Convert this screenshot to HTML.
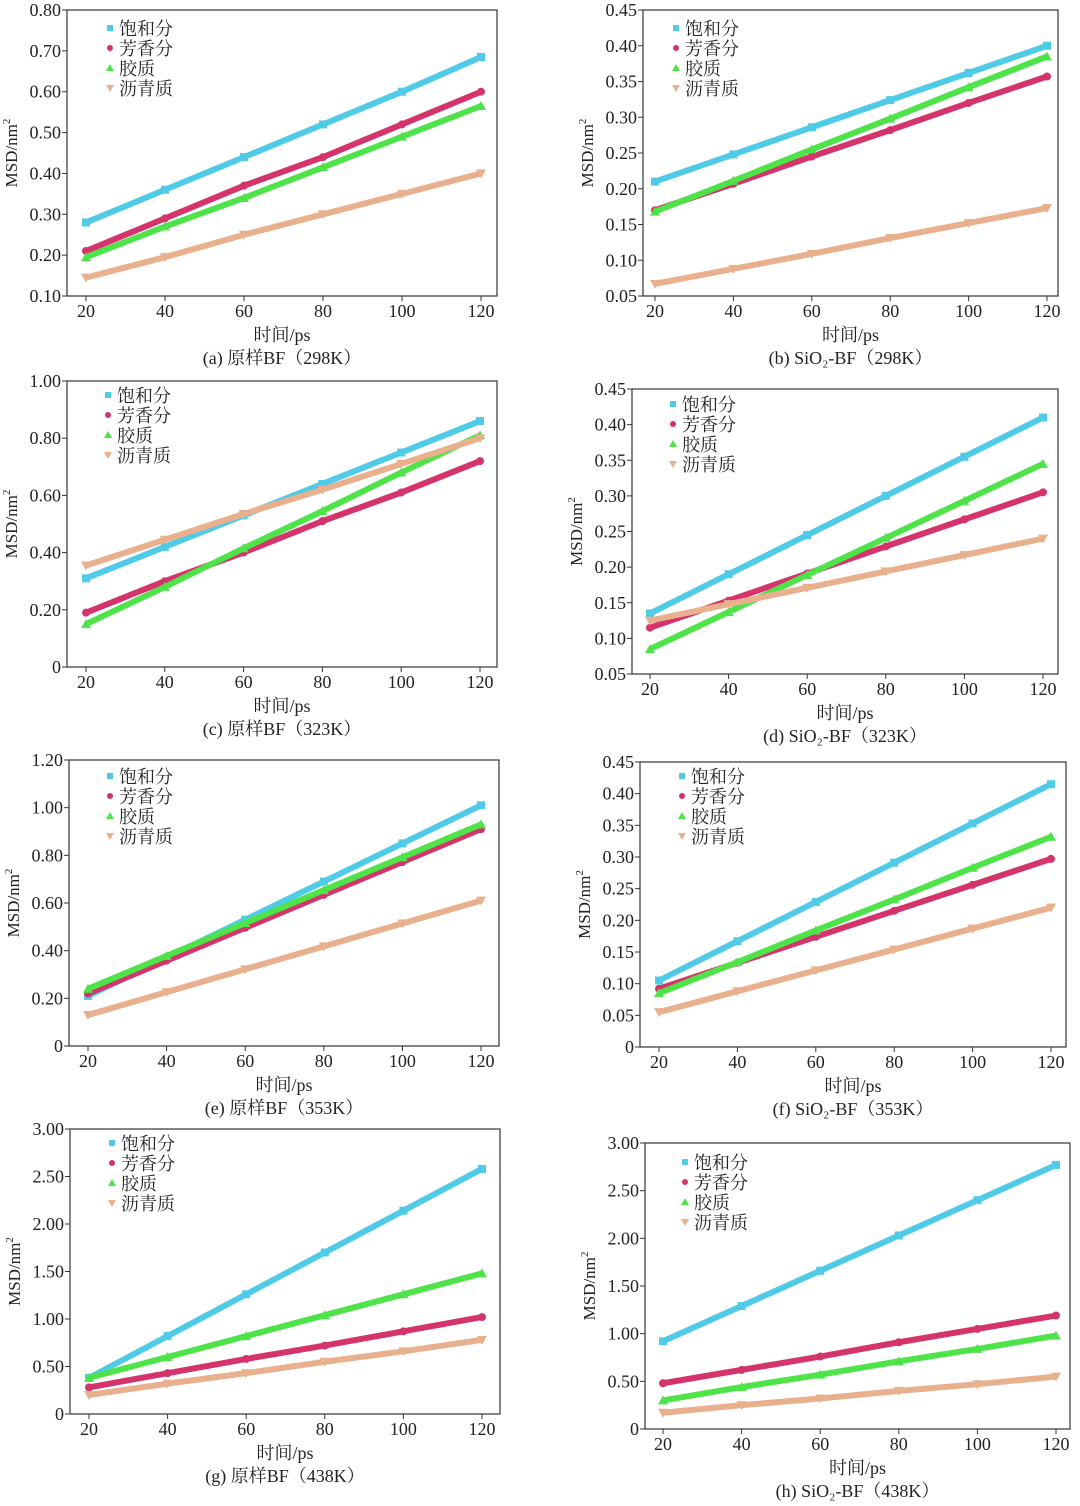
<!DOCTYPE html>
<html><head><meta charset="utf-8"><style>
body{margin:0;background:#fff;}
svg{display:block;font-family:"Liberation Serif","Noto Serif CJK SC",serif;}
</style></head><body>
<svg id="c" width="1080" height="1506" viewBox="0 0 1080 1506" xmlns="http://www.w3.org/2000/svg"></svg>
<script>
// x values (ps) at which series values were read
const xValues = [20, 40, 60, 80, 100, 120];
const seriesNames = ["饱和分", "芳香分", "胶质", "沥青质"];
// panel a (原样BF 298K)
const aSat = [0.28, 0.36, 0.44, 0.52, 0.60, 0.685];
const aAro = [0.21, 0.29, 0.37, 0.44, 0.52, 0.60];
const aCol = [0.195, 0.27, 0.34, 0.415, 0.49, 0.565];
const aAsp = [0.145, 0.195, 0.25, 0.30, 0.35, 0.40];
// panel b
const bSat = [0.21, 0.248, 0.286, 0.324, 0.362, 0.40];
const bAro = [0.17, 0.207, 0.245, 0.282, 0.32, 0.357];
const bCol = [0.168, 0.211, 0.255, 0.298, 0.342, 0.385];
const bAsp = [0.067, 0.088, 0.109, 0.131, 0.152, 0.173];
// panel c
const cSat = [0.31, 0.42, 0.53, 0.64, 0.75, 0.86];
const cAro = [0.19, 0.30, 0.40, 0.51, 0.61, 0.72];
const cCol = [0.15, 0.28, 0.415, 0.545, 0.68, 0.81];
const cAsp = [0.355, 0.445, 0.535, 0.62, 0.71, 0.80];
// panel d
const dSat = [0.135, 0.19, 0.245, 0.30, 0.355, 0.41];
const dAro = [0.115, 0.153, 0.191, 0.229, 0.267, 0.305];
const dCol = [0.085, 0.137, 0.189, 0.241, 0.293, 0.345];
const dAsp = [0.125, 0.148, 0.171, 0.194, 0.217, 0.24];
// panel e
const eSat = [0.21, 0.37, 0.53, 0.69, 0.85, 1.01];
const eAro = [0.22, 0.358, 0.496, 0.634, 0.772, 0.91];
const eCol = [0.24, 0.378, 0.516, 0.654, 0.792, 0.93];
const eAsp = [0.13, 0.226, 0.322, 0.418, 0.514, 0.61];
// panel f
const fSat = [0.105, 0.167, 0.229, 0.291, 0.353, 0.415];
const fAro = [0.092, 0.133, 0.174, 0.215, 0.256, 0.297];
const fCol = [0.085, 0.134, 0.184, 0.233, 0.283, 0.332];
const fAsp = [0.055, 0.088, 0.121, 0.154, 0.187, 0.22];
// panel g
const gSat = [0.38, 0.82, 1.26, 1.70, 2.14, 2.58];
const gAro = [0.28, 0.43, 0.58, 0.72, 0.87, 1.02];
const gCol = [0.38, 0.60, 0.82, 1.04, 1.26, 1.48];
const gAsp = [0.20, 0.32, 0.43, 0.55, 0.66, 0.78];
// panel h
const hSat = [0.92, 1.29, 1.66, 2.03, 2.40, 2.77];
const hAro = [0.48, 0.62, 0.76, 0.91, 1.05, 1.19];
const hCol = [0.30, 0.44, 0.57, 0.71, 0.84, 0.98];
const hAsp = [0.17, 0.25, 0.32, 0.40, 0.47, 0.55];
// tick labels
const yTicksA = ["0.10","0.20","0.30","0.40","0.50","0.60","0.70","0.80"];
const yTicksB = ["0.05","0.10","0.15","0.20","0.25","0.30","0.35","0.40","0.45"];
const yTicksC = ["0","0.20","0.40","0.60","0.80","1.00"];
const yTicksE = ["0","0.20","0.40","0.60","0.80","1.00","1.20"];
const yTicksF = ["0","0.05","0.10","0.15","0.20","0.25","0.30","0.35","0.40","0.45"];
const yTicksG = ["0","0.50","1.00","1.50","2.00","2.50","3.00"];
const xTicks = ["20","40","60","80","100","120"];

const colors = ["#4fcbe8", "#d5336c", "#4fe34a", "#e9b08e"];
const svg = document.getElementById('c');
const NS = "http://www.w3.org/2000/svg";
function mk(tag, attrs, parent){const e=document.createElementNS(NS,tag);for(const k in attrs)e.setAttribute(k,attrs[k]);(parent||svg).appendChild(e);return e;}

const panels = [
 {id:"a",L:67,R:497,T:10,B:296,x20:86,x120:481,yt:yTicksA,data:[aSat,aAro,aCol,aAsp],lg:[110,29],cap:"(a) 原样BF（298K）"},
 {id:"b",L:643,R:1058,T:10,B:296,x20:655,x120:1047,yt:yTicksB,data:[bSat,bAro,bCol,bAsp],lg:[676,29],cap:"(b) SiO₂-BF（298K）"},
 {id:"c",L:67,R:497,T:381,B:667,x20:86,x120:480,yt:yTicksC,data:[cSat,cAro,cCol,cAsp],lg:[108,396],cap:"(c) 原样BF（323K）"},
 {id:"d",L:632,R:1058,T:389,B:674,x20:650,x120:1043,yt:yTicksB,data:[dSat,dAro,dCol,dAsp],lg:[673,405],cap:"(d) SiO₂-BF（323K）"},
 {id:"e",L:69,R:499,T:760,B:1046,x20:88,x120:481,yt:yTicksE,data:[eSat,eAro,eCol,eAsp],lg:[110,777],cap:"(e) 原样BF（353K）"},
 {id:"f",L:640,R:1066,T:762,B:1047,x20:659,x120:1051,yt:yTicksF,data:[fSat,fAro,fCol,fAsp],lg:[682,777],cap:"(f) SiO₂-BF（353K）"},
 {id:"g",L:70,R:500,T:1129,B:1414,x20:89,x120:482,yt:yTicksG,data:[gSat,gAro,gCol,gAsp],lg:[112,1144],cap:"(g) 原样BF（438K）"},
 {id:"h",L:645,R:1070,T:1143,B:1429,x20:663,x120:1056,yt:yTicksG,data:[hSat,hAro,hCol,hAsp],lg:[685,1163],cap:"(h) SiO₂-BF（438K）"}
];

function marker(g, k, x, y, s){
  let e;
  if(k===0) e=mk('rect',{x:x-s,y:y-s,width:2*s,height:2*s,fill:colors[0]},g);
  else if(k===1) e=mk('circle',{cx:x,cy:y,r:s,fill:colors[1]},g);
  else if(k===2) e=mk('polygon',{points:`${x},${y-s-1} ${x-s-1},${y+s} ${x+s+1},${y+s}`,fill:colors[2]},g);
  else e=mk('polygon',{points:`${x},${y+s+1} ${x-s-1},${y-s} ${x+s+1},${y-s}`,fill:colors[3]},g);
  return e;
}

panels.forEach(p=>{
  const g=mk('g',{});
  
  
  const y0=parseFloat(p.yt[0]), y1=parseFloat(p.yt[p.yt.length-1]);
  const sx=v=>p.x20+(v-20)*(p.x120-p.x20)/100;
  const sy=v=>p.B-(v-y0)*(p.B-p.T)/(y1-y0);
  const box=mk('rect',{x:p.L,y:p.T,width:p.R-p.L,height:p.B-p.T,fill:'none',stroke:'#333','stroke-width':1.2},g);
  
  
  p.yt.forEach(t=>{
    const y=sy(parseFloat(t));
    mk('line',{x1:p.L-5,x2:p.L,y1:y,y2:y,stroke:'#333'},g);
    const tx=mk('text',{x:p.L-6,y:y+6,'text-anchor':'end','font-size':18,fill:'#222'},g);
    tx.textContent=t;
    
    
  });
  xTicks.forEach(t=>{
    const x=sx(parseFloat(t));
    mk('line',{x1:x,x2:x,y1:p.B,y2:p.B+5,stroke:'#333'},g);
    const tx=mk('text',{x:x,y:p.B+21,'text-anchor':'middle','font-size':18,fill:'#222'},g);
    tx.textContent=t;
    
    
  });
  p.data.forEach((arr,k)=>{
    const pts=arr.map((v,i)=>sx(xValues[i])+','+sy(v)).join(' ');
    const ln=mk('polyline',{points:pts,fill:'none',stroke:colors[k],'stroke-width':6},g);
    
    
    arr.forEach((v,i)=>{
      const m=marker(g,k,sx(xValues[i]),sy(v),4);
      
      
    });
  });
  seriesNames.forEach((n,k)=>{
    const lx=p.lg[0], ly=p.lg[1]+k*20;
    const m=marker(g,k,lx,ly-1,3);
    
    
    const tx=mk('text',{x:lx+9,y:ly+6,'font-size':18,fill:'#222'},g);
    tx.textContent=n;
    
    
  });
  const cy=(p.T+p.B)/2, yx=p.L-50;
  const yt=mk('text',{x:yx,y:cy,'text-anchor':'middle','font-size':17,fill:'#222',transform:`rotate(-90 ${yx} ${cy})`},g);
  yt.innerHTML='MSD/nm<tspan dy="-7" font-size="11">2</tspan>';
  
  
  const mx=(p.L+p.R)/2;
  const xt=mk('text',{x:mx,y:p.B+45,'text-anchor':'middle','font-size':18,fill:'#222'},g);
  xt.textContent='时间/ps';
  
  
  const ct=mk('text',{x:mx,y:p.B+68,'text-anchor':'middle','font-size':18,fill:'#222'},g);
  ct.textContent=p.cap;
  
  
});
</script>
</body></html>
